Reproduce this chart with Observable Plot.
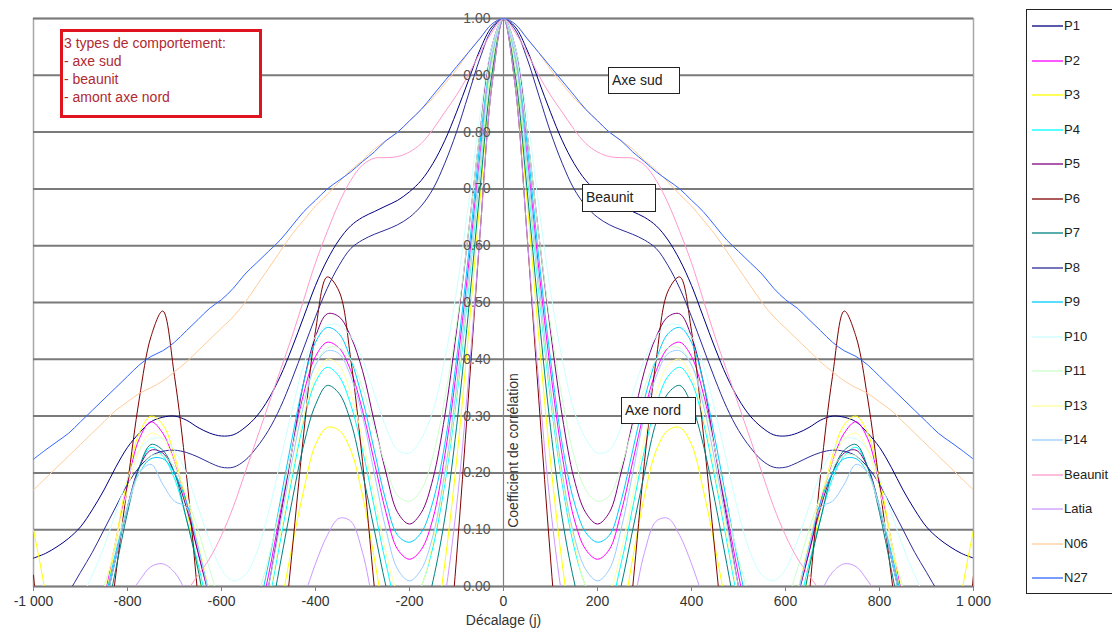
<!DOCTYPE html>
<html><head><meta charset="utf-8">
<script src="https://cdn.jsdelivr.net/npm/d3@7"></script>
<script src="https://cdn.jsdelivr.net/npm/@observablehq/plot@0.6"></script>
<style>
body{margin:0;background:#fff;font-family:"Liberation Sans",Arial,sans-serif;}
#wrap{position:relative;width:1112px;height:635px;overflow:hidden;background:#fff;}
.lbl{position:absolute;background:#fff;border:1px solid #222;font-size:14px;color:#222;line-height:24px;padding-left:3px;box-sizing:border-box;white-space:nowrap;}
#note{position:absolute;left:60px;top:29px;width:202px;height:89px;border:3px solid #e0141e;box-sizing:border-box;background:#fff;color:#b02a32;font-size:14px;line-height:18px;padding:2px 0 0 1px;white-space:nowrap;}
#legend{position:absolute;left:1026px;top:9px;width:100px;height:585px;border:1px solid #222;box-sizing:border-box;background:#fff;}
.it{position:absolute;left:0;width:100px;height:16px;font-size:13px;color:#222;}
.it svg{position:absolute;left:5px;top:0;}
.it .tx{position:absolute;left:37px;top:0;line-height:16px;white-space:nowrap;}
</style></head><body><div id="wrap"></div>
<script>
// lag (days), one side; autocorrelation is symmetric so negative lags mirror these
const lags = [0,25,50,75,100,125,150,175,200,225,250,275,300,325,350,375,400,425,450,475,500,525,550,575,600,625,650,675,700,725,750,775,800,825,850,875,900,925,950,975,1000];

const P1 = [1.00,0.985,0.945,0.89,0.835,0.785,0.745,0.715,0.695,0.68,0.67,0.66,0.65,0.635,0.61,0.575,0.53,0.475,0.42,0.37,0.33,0.30,0.28,0.267,0.265,0.27,0.28,0.293,0.30,0.298,0.29,0.27,0.245,0.21,0.17,0.135,0.105,0.085,0.07,0.058,0.05];
const P2 = [1.0,0.93,0.76,0.56,0.38,0.23,0.12,0.065,0.048,0.065,0.13,0.22,0.31,0.38,0.42,0.43,0.405,0.34,0.24,0.13,0.02,-0.07,-0.12,-0.13,-0.09,-0.02,0.06,0.15,0.22,0.27,0.29,0.26,0.18,0.08,-0.02,-0.1,-0.15,-0.17,-0.16,-0.13,-0.1];
const P3 = [1.0,0.9,0.68,0.44,0.22,0.04,-0.1,-0.18,-0.21,-0.17,-0.07,0.05,0.16,0.24,0.275,0.28,0.25,0.17,0.07,-0.04,-0.14,-0.22,-0.26,-0.25,-0.19,-0.09,0.03,0.14,0.23,0.285,0.30,0.27,0.19,0.08,-0.04,-0.14,-0.21,-0.22,-0.15,-0.01,0.1];
const P4 = [1.0,0.92,0.73,0.52,0.33,0.18,0.07,0.0,-0.04,-0.03,0.04,0.14,0.24,0.32,0.37,0.386,0.36,0.29,0.19,0.08,-0.03,-0.12,-0.17,-0.18,-0.13,-0.05,0.04,0.12,0.19,0.23,0.245,0.21,0.14,0.05,-0.04,-0.12,-0.17,-0.19,-0.18,-0.15,-0.11];
const P5 = [1.0,0.95,0.8,0.62,0.45,0.3,0.19,0.13,0.11,0.13,0.2,0.29,0.38,0.44,0.475,0.48,0.44,0.36,0.24,0.12,0.0,-0.1,-0.15,-0.15,-0.1,-0.02,0.06,0.14,0.2,0.235,0.24,0.21,0.14,0.05,-0.04,-0.12,-0.17,-0.19,-0.18,-0.15,-0.12];
const P6 = [1.0,0.88,0.62,0.33,0.05,-0.2,-0.4,-0.5,-0.5,-0.4,-0.2,0.0,0.22,0.4,0.52,0.545,0.45,0.27,0.06,-0.15,-0.35,-0.5,-0.55,-0.55,-0.45,-0.25,-0.02,0.2,0.37,0.485,0.44,0.33,0.18,0.02,-0.15,-0.35,-0.5,-0.52,-0.42,-0.2,0.02];
const P7 = [1.0,0.9,0.7,0.48,0.28,0.12,0.01,-0.07,-0.1,-0.08,0.0,0.1,0.2,0.29,0.34,0.354,0.32,0.25,0.15,0.04,-0.07,-0.16,-0.21,-0.22,-0.17,-0.08,0.03,0.12,0.2,0.24,0.25,0.21,0.13,0.03,-0.07,-0.15,-0.2,-0.21,-0.19,-0.15,-0.1];
const P8 = [1.0,0.98,0.93,0.865,0.80,0.745,0.70,0.67,0.65,0.637,0.628,0.62,0.61,0.595,0.565,0.525,0.475,0.42,0.365,0.315,0.275,0.245,0.222,0.21,0.21,0.218,0.228,0.236,0.24,0.238,0.23,0.21,0.18,0.14,0.10,0.06,0.025,-0.01,-0.04,-0.07,-0.1];
const P9 = [1.0,0.94,0.78,0.58,0.40,0.25,0.15,0.095,0.078,0.09,0.15,0.24,0.33,0.40,0.445,0.456,0.43,0.36,0.26,0.15,0.04,-0.05,-0.1,-0.11,-0.08,-0.01,0.07,0.15,0.2,0.225,0.225,0.2,0.14,0.06,-0.03,-0.1,-0.14,-0.15,-0.14,-0.11,-0.08];
const P10 = [1.0,0.95,0.83,0.67,0.52,0.4,0.31,0.26,0.235,0.24,0.28,0.34,0.4,0.44,0.46,0.46,0.44,0.39,0.31,0.22,0.13,0.06,0.02,0.01,0.03,0.08,0.14,0.2,0.24,0.26,0.26,0.24,0.19,0.13,0.07,0.02,-0.02,-0.04,-0.04,-0.03,-0.01];
const P11 = [1.0,0.94,0.8,0.62,0.46,0.33,0.23,0.17,0.15,0.16,0.21,0.28,0.35,0.4,0.42,0.42,0.39,0.33,0.24,0.14,0.05,-0.02,-0.06,-0.06,-0.03,0.03,0.1,0.16,0.21,0.23,0.23,0.2,0.14,0.07,0.0,-0.06,-0.1,-0.11,-0.1,-0.08,-0.05];
const P13 = [1.0,0.92,0.74,0.53,0.34,0.19,0.08,0.0,-0.03,-0.01,0.06,0.16,0.26,0.34,0.39,0.40,0.37,0.3,0.2,0.09,-0.02,-0.1,-0.14,-0.14,-0.09,-0.01,0.08,0.16,0.22,0.26,0.27,0.24,0.17,0.08,-0.01,-0.08,-0.12,-0.13,-0.12,-0.1,-0.07];
const P14 = [1.0,0.93,0.75,0.54,0.35,0.2,0.09,0.03,0.01,0.03,0.1,0.2,0.3,0.37,0.41,0.415,0.39,0.32,0.22,0.11,0.0,-0.09,-0.14,-0.15,-0.1,-0.02,0.07,0.14,0.15,0.18,0.215,0.2,0.14,0.05,-0.04,-0.11,-0.15,-0.16,-0.15,-0.12,-0.09];
const Beaunit = [1.0,0.975,0.94,0.9,0.865,0.835,0.805,0.78,0.765,0.757,0.755,0.754,0.742,0.715,0.675,0.625,0.57,0.505,0.44,0.38,0.32,0.26,0.2,0.14,0.09,0.05,0.02,-0.01,-0.04,-0.06,-0.08,-0.09,-0.1,-0.1,-0.1,-0.1,-0.1,-0.1,-0.1,-0.1,-0.1];
const Latia = [1.0,0.88,0.62,0.36,0.14,-0.02,-0.13,-0.2,-0.22,-0.2,-0.13,-0.04,0.06,0.115,0.12,0.09,0.04,-0.02,-0.08,-0.13,-0.17,-0.2,-0.2,-0.18,-0.14,-0.09,-0.05,-0.01,0.025,0.04,0.035,0.01,-0.02,-0.05,-0.08,-0.1,-0.1,-0.1,-0.1,-0.1,-0.1];
const N06 = [1.0,0.99,0.965,0.94,0.91,0.885,0.86,0.84,0.82,0.80,0.785,0.77,0.75,0.733,0.712,0.69,0.67,0.645,0.62,0.59,0.56,0.53,0.50,0.475,0.455,0.435,0.415,0.395,0.378,0.362,0.35,0.34,0.325,0.31,0.29,0.27,0.25,0.23,0.21,0.19,0.17];
const N27 = [1.0,0.99,0.965,0.94,0.915,0.89,0.865,0.84,0.82,0.80,0.785,0.765,0.748,0.73,0.715,0.70,0.68,0.66,0.635,0.61,0.59,0.57,0.55,0.525,0.505,0.49,0.47,0.45,0.43,0.415,0.405,0.39,0.37,0.35,0.33,0.31,0.29,0.27,0.255,0.24,0.224];

const seriesNames = ["P1","P2","P3","P4","P5","P6","P7","P8","P9","P10","P11","P13","P14","Beaunit","Latia","N06","N27"];
const seriesValues = [P1,P2,P3,P4,P5,P6,P7,P8,P9,P10,P11,P13,P14,Beaunit,Latia,N06,N27];
const seriesColors = ["#000080","#ff00ff","#ffff00","#00ffff","#800080","#800000","#008080","#2b2b9b","#00ccff","#ccffff","#ccffcc","#ffff99","#99ccff","#ff99cc","#cc99ff","#ffcc99","#3366ff"];

const xTicks = [-1000,-800,-600,-400,-200,0,200,400,600,800,1000];
const yTicks = [0,0.1,0.2,0.3,0.4,0.5,0.6,0.7,0.8,0.9,1.0];
const xLabel = "Décalage (j)";
const yLabel = "Coefficient de corrélation";

// table: mirror each one-sided correlogram to negative lags
const rows = [];
seriesNames.forEach((name, k) => {
  const v = seriesValues[k];
  for (let i = lags.length - 1; i >= 1; i--) rows.push({serie: name, lag: -lags[i], r: v[i]});
  for (let i = 0; i < lags.length; i++) rows.push({serie: name, lag: lags[i], r: v[i]});
});

const fr = d3.formatLocale({decimal: ".", thousands: " ", grouping: [3], minus: "-"});
const fmtX = fr.format(",");
const fmtY = d3.format(".2f");

const chart = Plot.plot({
  width: 1112, height: 635,
  marginLeft: 33, marginRight: 139, marginTop: 18, marginBottom: 49,
  style: {fontFamily: "'Liberation Sans', Arial, sans-serif", fontSize: "14px", background: "white", color: "#333"},
  x: {domain: [-1000, 1000]},
  y: {domain: [0, 1], axis: null},
  color: {domain: seriesNames, range: seriesColors},
  marks: [
    Plot.frame({stroke: "#a8a8a8", strokeWidth: 1.5}),
    Plot.ruleY(yTicks, {stroke: "#7a7a7a", strokeWidth: 2}),
    Plot.line(rows, {x: "lag", y: "r", z: "serie", stroke: "serie", strokeWidth: 1, curve: "catmull-rom", clip: true}),
    Plot.ruleX([0], {stroke: "#808080", strokeWidth: 1.2}),
    Plot.axisX({ticks: xTicks, tickFormat: fmtX, tickSize: 5, tickPadding: 5, fontSize: 14, stroke: "#808080", fill: "#333", label: null}),
    Plot.text(yTicks, {x: 0, y: d => d, text: d => fmtY(d), dx: -13, textAnchor: "end", fill: "#555", fontSize: 14}),
    Plot.text([xLabel], {frameAnchor: "bottom", dy: 38, text: d => d, fill: "#333", fontSize: 14}),
    Plot.text([yLabel], {x: 0, frameAnchor: "bottom", dx: 14, dy: -136, rotate: -90, text: d => d, fill: "#333", fontSize: 14})
  ]
});

const wrap = document.getElementById("wrap");
wrap.appendChild(chart);
chart.style.position = "absolute"; chart.style.left = "0"; chart.style.top = "0";

// annotations
const note = document.createElement("div");
note.id = "note";
note.innerHTML = "3 types de comportement:<br>- axe sud<br>- beaunit<br>- amont axe nord";
wrap.appendChild(note);

const labels = [
  {t: "Axe sud", l: 608, tp: 67, w: 72, h: 27},
  {t: "Beaunit", l: 582, tp: 184, w: 74, h: 28},
  {t: "Axe nord", l: 621, tp: 397, w: 75, h: 27}
];
labels.forEach(o => {
  const d = document.createElement("div");
  d.className = "lbl"; d.textContent = o.t;
  d.style.left = o.l + "px"; d.style.top = o.tp + "px"; d.style.width = o.w + "px"; d.style.height = o.h + "px";
  wrap.appendChild(d);
});

// legend
const leg = document.createElement("div");
leg.id = "legend";
seriesNames.forEach((name, i) => {
  const it = document.createElement("div");
  it.className = "it";
  it.style.top = Math.round(8 + i * 34.5) + "px";
  it.innerHTML = `<svg width="32" height="16"><line x1="0" x2="31" y1="8" y2="8" stroke="${seriesColors[i]}" stroke-width="1.3"/></svg>`;
  const tx = document.createElement("div");
  tx.className = "tx";
  tx.textContent = name;
  it.appendChild(tx);
  leg.appendChild(it);
});
wrap.appendChild(leg);
</script>
</body></html>
